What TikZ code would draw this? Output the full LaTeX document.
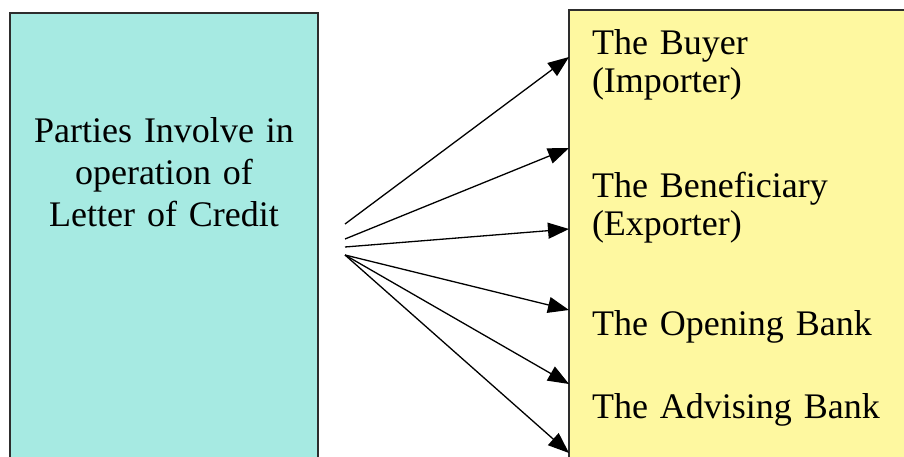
\documentclass[tikz,border=0pt]{standalone}
\usepackage{fontspec}
\setmainfont{Liberation Serif}
\usetikzlibrary{arrows.meta}
\definecolor{boxcyan}{RGB}{166,234,226}
\definecolor{boxyellow}{RGB}{254,248,160}
\definecolor{frameline}{RGB}{45,45,45}

\begin{document}
\begin{tikzpicture}[x=1pt,y=-1pt,
  panel/.style={inner sep=0pt, outer sep=0pt, anchor=north west},
  frame/.style={draw=frameline, line width=1.5pt},
  label/.style={inner sep=0pt, outer sep=0pt, font=\fontsize{36}{38}\selectfont,
    text width=300pt, align=left, anchor=base west},
  link/.style={draw=black, line width=1.3pt,
    -{Triangle[length=21pt,width=16pt]}}]
\useasboundingbox (0,0) rectangle (904,457);

% two panels
\node[panel, fill=boxcyan, minimum width=308pt, minimum height=444pt] (parties) at (10,13) {};
\node[panel, fill=boxyellow, minimum width=335pt, minimum height=447pt] (roles) at (569,10) {};
\draw[frame] (parties.south west) -- (parties.north west) -- (parties.north east) -- (parties.south east);
\draw[frame] (roles.south west) -- (roles.north west) -- (roles.north east);

% texts
\node[label, font=\fontsize{36}{42}\selectfont, align=center, anchor=base] (title) at (164,143)
  {Parties Involve in\\operation of\\Letter of Credit};
\node[label] (buyer) at (592,55) {The Buyer\\(Importer)};
\node[label] (beneficiary) at (592,197) {The Beneficiary\\(Exporter)};
\node[label] (opening) at (592,335) {The Opening Bank};
\node[label] (advising) at (592,418) {The Advising Bank};

% arrow tails and heads
\coordinate (t1) at (345,224);
\coordinate (t2) at (345,239);
\coordinate (t3) at (345,247);
\coordinate (t4) at (345,255);
\coordinate (h1) at (roles.west |- 0,57);
\coordinate (h2) at (roles.west |- 0,148);
\coordinate (h3) at (roles.west |- 0,229);
\coordinate (h4) at (roles.west |- 0,310);
\coordinate (h5) at (roles.west |- 0,384);
\coordinate (h6) at (roles.west |- 0,453);

\draw[link] (t1) -- (h1);
\draw[link] (t2) -- (h2);
\draw[link] (t3) -- (h3);
\draw[link] (t4) -- (h4);
\draw[link] (t4) -- (h5);
\draw[link] (t4) -- (h6);
\end{tikzpicture}
\end{document}
